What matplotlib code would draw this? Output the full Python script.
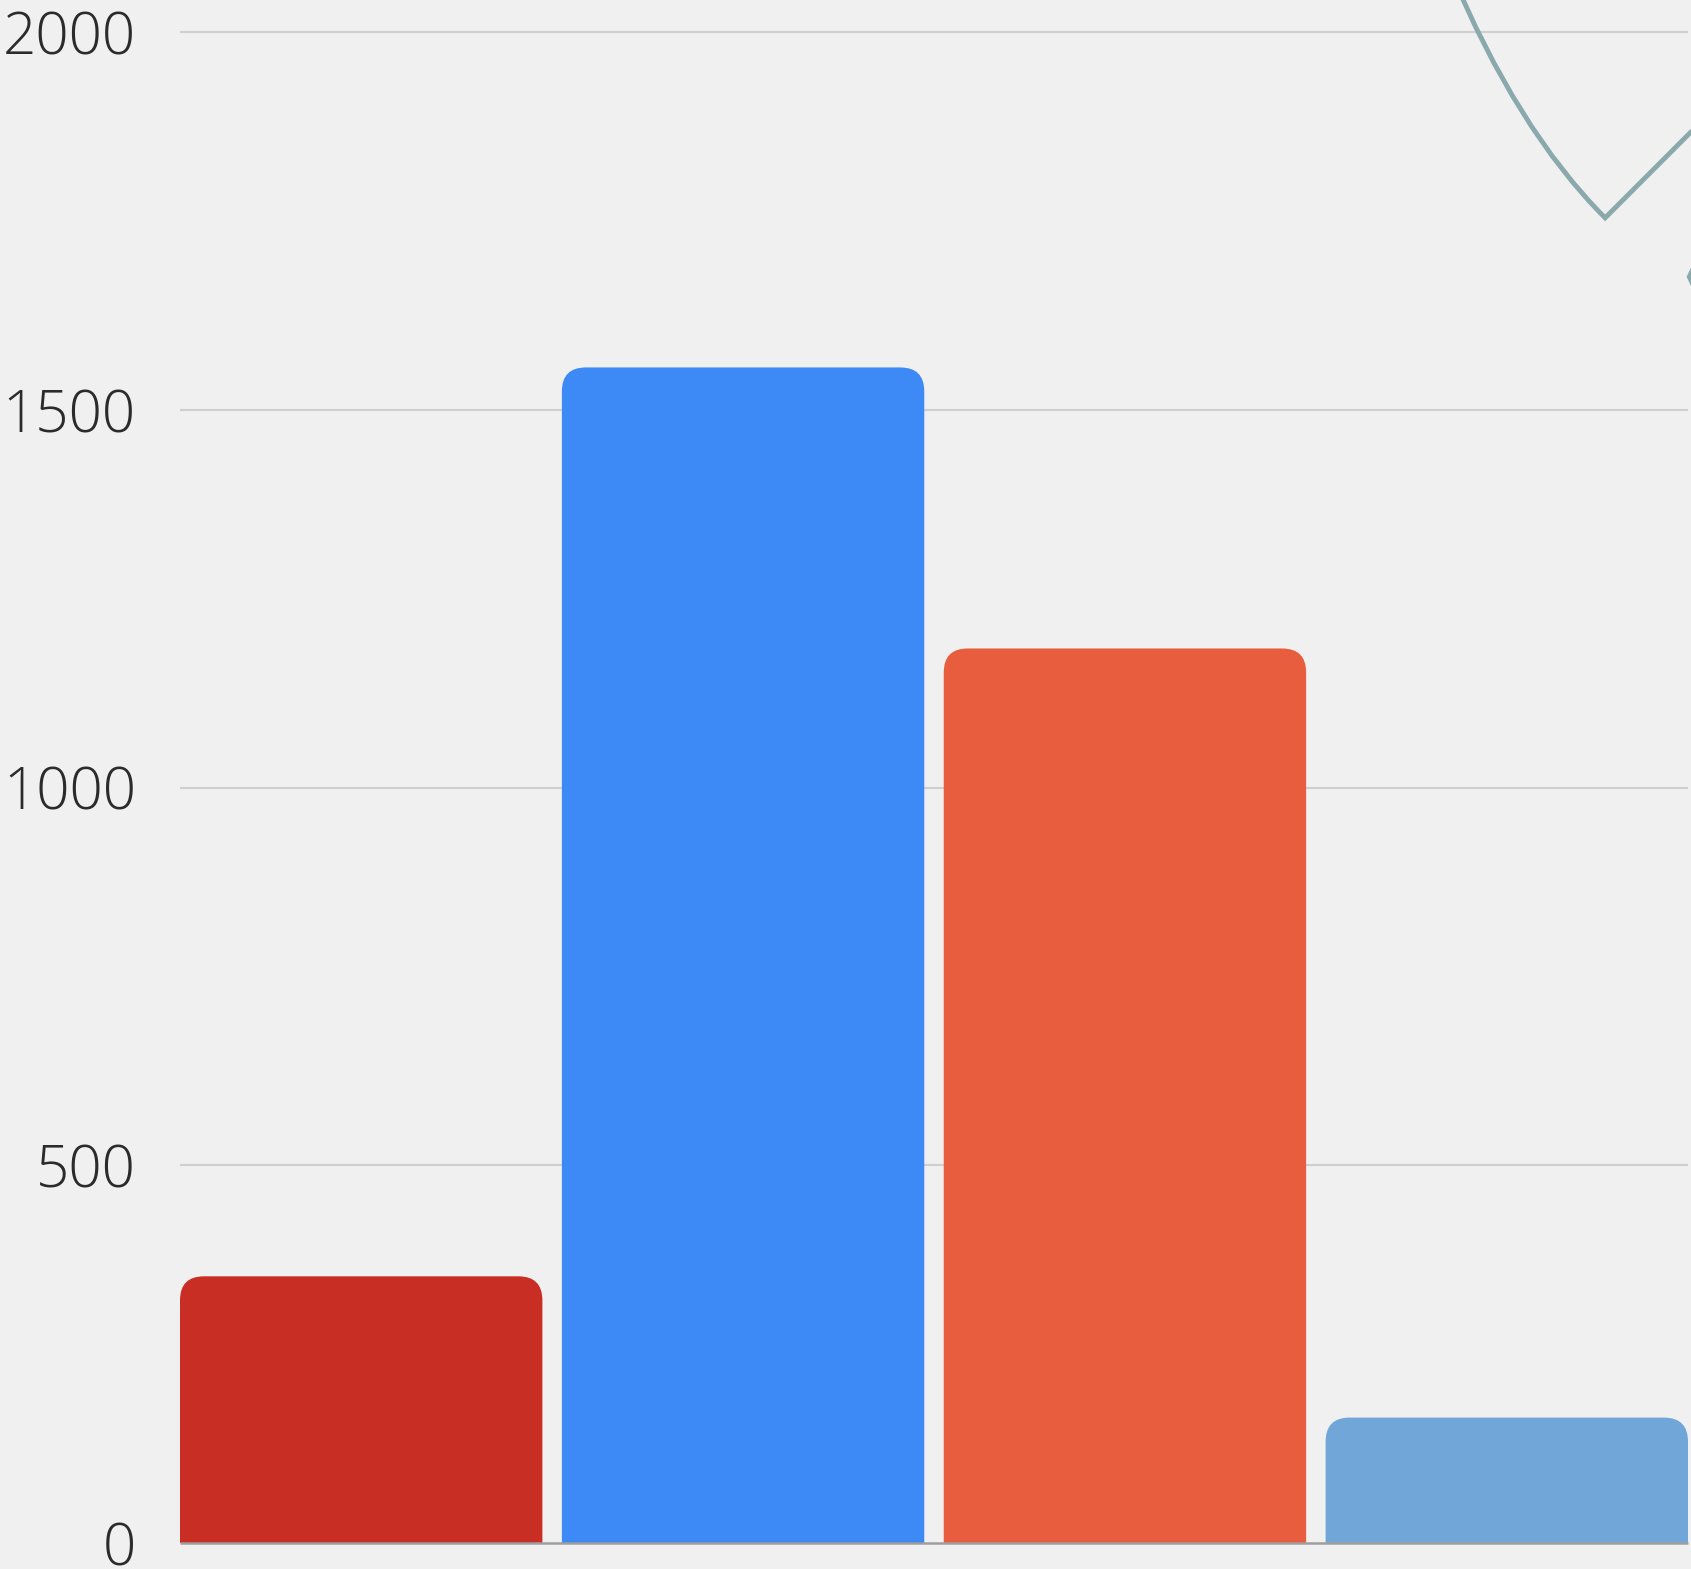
import matplotlib
matplotlib.use("Agg")
import numpy as np
import matplotlib.pyplot as plt
from matplotlib.patches import FancyBboxPatch, Rectangle, PathPatch
from matplotlib.path import Path

# ---- data ----
categories = ["A", "B", "C", "D"]
values = [353, 1556, 1184, 166]
bar_colors = ["#C92E25", "#3D89F5", "#E85D3D", "#71A7D8"]
y_ticks = [0, 500, 1000, 1500, 2000]
tick_labels = ["0", "500", "1000", "1500", "2000"]
# partial line series (mostly outside the visible region):
# smooth arc (start, midpoint, vertex), then a straight tail
curve_x = [2.8515, 3.0401, 3.2575]
curve_y = [2082, 1894.5, 1754]
tail_x = [3.55]
tail_y = [1902]
line2_x = [3.50, 3.478, 3.50]
line2_y = [1700, 1676, 1652]

W, H = 1691, 1569
fig = plt.figure(figsize=(W / 100, H / 100), dpi=100)
bg = "#F0F0F0"
fig.patch.set_facecolor(bg)

ax_left, ax_right = 179, 1691
ax = fig.add_axes([ax_left / W, 0, (ax_right - ax_left) / W, 1])
ax.set_facecolor(bg)

px_per_x = 381.7
px_per_y = 0.7555
bw = 0.949
x0 = -bw / 2 - 1 / px_per_x
x1 = 3 + bw / 2 + 3 / px_per_x
ax.set_xlim(x0, x1)
ax.set_ylim(-26 / px_per_y, 1543 / px_per_y)

for s in ax.spines.values():
    s.set_visible(False)
ax.set_xticks([])
ax.set_yticks(y_ticks)
ax.set_yticklabels(tick_labels)
ax.tick_params(axis="y", length=0, pad=31, labelsize=42, labelcolor="#2b2b2b")
for t in ax.get_yticklabels():
    t.set_fontfamily(["Open Sans", "DejaVu Sans"])
    t.set_fontweight(300)

# gridlines
ax.hlines(y_ticks[1:], -bw / 2, 3 + bw / 2, colors="#CFCFCF", linewidth=1.5, zorder=1)

# bars with rounded top corners
bars = ax.bar(range(len(values)), values, width=bw, color=bar_colors, zorder=2)
aspect = (1 / px_per_y) / (1 / px_per_x)
r = 24 / px_per_x
ry = r * aspect
for b, c in zip(bars, bar_colors):
    x, w, h = b.get_x(), b.get_width(), b.get_height()
    b.set_visible(False)
    p = FancyBboxPatch((x, -ry * 1.5), w, h + ry * 1.5,
                       boxstyle=f"round,pad=0,rounding_size={r}",
                       mutation_aspect=aspect, facecolor=c,
                       edgecolor="none", zorder=2)
    ax.add_patch(p)
    clip = Rectangle((x0, 0), x1 - x0, 5000, transform=ax.transData)
    p.set_clip_path(clip)

# baseline
ax.hlines([0], -bw / 2, 3 + bw / 2, colors="#9E9E9E", linewidth=1.8, zorder=3)

# line series: quadratic arc through start / mid / vertex, then straight tail
T = np.array([curve_x[0], curve_y[0]])
M = np.array([curve_x[1], curve_y[1]])
V = np.array([curve_x[2], curve_y[2]])
C = 2 * M - (T + V) / 2
verts = [tuple(T), tuple(C), tuple(V)] + list(zip(tail_x, tail_y))
codes = [Path.MOVETO, Path.CURVE3, Path.CURVE3] + [Path.LINETO] * len(tail_x)
ax.add_patch(PathPatch(Path(verts, codes), fill=False, edgecolor="#8AA9AD",
                       linewidth=3.5, joinstyle="miter", capstyle="butt", zorder=4))
ax.plot(line2_x, line2_y, color="#8AA9AD", linewidth=3.5, zorder=4,
        solid_joinstyle="miter")

fig.savefig("out.png", dpi=100, facecolor=bg)
